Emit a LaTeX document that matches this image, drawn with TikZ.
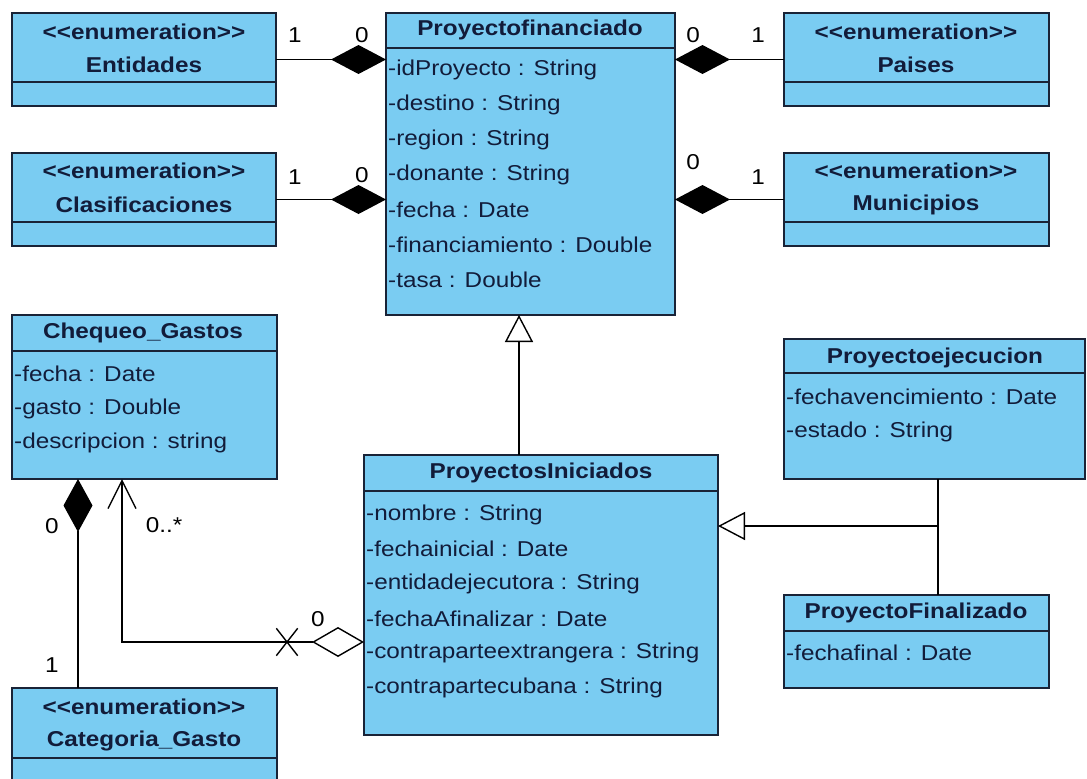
\documentclass[tikz,border=0pt]{standalone}
\usepackage{fontspec}
\setmainfont{Liberation Sans}[FakeStretch=1.13]
\usetikzlibrary{arrows.meta,shapes.misc}
\definecolor{clsfill}{RGB}{122,204,242}
\definecolor{clsline}{RGB}{25,35,55}
\definecolor{clstext}{RGB}{18,28,58}
\newcommand\enumst{<\kern0pt<enumeration>\kern0pt>}
\begin{document}
\begin{tikzpicture}[x=1pt,y=-1pt,
  cls/.style={draw=clsline, fill=clsfill, line width=1.8pt, anchor=north west, inner sep=0pt, outer sep=0pt},
  ttl/.style={font=\bfseries\fontsize{21.5}{24}\selectfont, text=clstext, inner sep=0pt},
  attr/.style={font=\fontsize{21.5}{24}\selectfont, text=clstext, anchor=west, inner sep=0pt},
  mult/.style={font=\fontsize{21.5}{24}\selectfont, text=black, inner sep=0pt},
  sep/.style={draw=clsline, line width=1.8pt},
  conn/.style={draw=black, line width=1.4pt},
  comp/.style={conn, -{Diamond[length=55pt, width=29pt]}},
  gen/.style={conn, -{Triangle[open, length=27pt, width=28pt]}},
  xmark/.style={draw=black, line width=1.4pt, cross out, minimum width=20pt, minimum height=26pt, inner sep=0pt}
]
\useasboundingbox[fill=white] (0,0) rectangle (1087,779);
\clip (0,0) rectangle (1087,779);

% ---- Entidades
\node[cls, minimum width=264pt, minimum height=93pt] (ent) at (12,13) {};
\draw[sep] (12,82) -- (276,82);
\node[ttl] (entS) at (144,32) {\enumst};
\node[ttl] (entN) at (144,65) {Entidades};

% ---- Clasificaciones
\node[cls, minimum width=264pt, minimum height=93pt] (cla) at (12,153) {};
\draw[sep] (12,222) -- (276,222);
\node[ttl] (claS) at (144,171) {\enumst};
\node[ttl] (claN) at (144,205) {Clasificaciones};

% ---- Paises
\node[cls, minimum width=265pt, minimum height=93pt] (pai) at (784,13) {};
\draw[sep] (784,82) -- (1049,82);
\node[ttl] (paiS) at (916,32) {\enumst};
\node[ttl] (paiN) at (916,65) {Paises};

% ---- Municipios
\node[cls, minimum width=265pt, minimum height=93pt] (mun) at (784,153) {};
\draw[sep] (784,222) -- (1049,222);
\node[ttl] (munS) at (916,171) {\enumst};
\node[ttl] (munN) at (916,205) {Municipios};

% ---- Proyectofinanciado
\node[cls, minimum width=289pt, minimum height=302pt] (pf) at (386,13) {};
\draw[sep] (386,48) -- (675,48);
\node[ttl] (pfN) at (530,30) {Proyectofinanciado};
\node[attr] (pf1) at (388,70) {-idProyecto : String};
\node[attr] (pf2) at (388,105) {-destino : String};
\node[attr] (pf3) at (388,140) {-region : String};
\node[attr] (pf4) at (388,175) {-donante : String};
\node[attr] (pf5) at (388,210) {-fecha : Date};
\node[attr] (pf6) at (388,245) {-financiamiento : Double};
\node[attr] (pf7) at (388,280) {-tasa : Double};

% ---- Chequeo_Gastos
\node[cls, minimum width=265pt, minimum height=164pt] (cg) at (12,315) {};
\draw[sep] (12,351) -- (277,351);
\node[ttl] (cgN) at (143,333) {Chequeo\_Gastos};
\node[attr] (cg1) at (14,374) {-fecha : Date};
\node[attr] (cg2) at (14,409) {-gasto : Double};
\node[attr] (cg3) at (14,443) {-descripcion : string};

% ---- Categoria_Gasto
\node[cls, minimum width=265pt, minimum height=112pt] (cat) at (12,688) {};
\draw[sep] (12,758) -- (277,758);
\node[ttl] (catS) at (144,707) {\enumst};
\node[ttl] (catN) at (144,741) {Categoria\_Gasto};

% ---- ProyectosIniciados
\node[cls, minimum width=354pt, minimum height=280pt] (pi) at (364,455) {};
\draw[sep] (364,491) -- (718,491);
\node[ttl] (piN) at (541,473) {ProyectosIniciados};
\node[attr] (pi1) at (366,515) {-nombre : String};
\node[attr] (pi2) at (366,549) {-fechainicial : Date};
\node[attr] (pi3) at (366,584) {-entidadejecutora : String};
\node[attr] (pi4) at (366,619) {-fechaAfinalizar : Date};
\node[attr] (pi5) at (366,653) {-contraparteextrangera : String};
\node[attr] (pi6) at (366,688) {-contrapartecubana : String};

% ---- Proyectoejecucion
\node[cls, minimum width=301pt, minimum height=140pt] (pe) at (784,339) {};
\draw[sep] (784,373) -- (1085,373);
\node[ttl] (peN) at (935,358) {Proyectoejecucion};
\node[attr] (pe1) at (786,397) {-fechavencimiento : Date};
\node[attr] (pe2) at (786,432) {-estado : String};

% ---- ProyectoFinalizado
\node[cls, minimum width=265pt, minimum height=93pt] (pfin) at (784,595) {};
\draw[sep] (784,631) -- (1049,631);
\node[ttl] (pfinN) at (916,613) {ProyectoFinalizado};
\node[attr] (pfin1) at (786,653) {-fechafinal : Date};

% ---- compositions with enumerations
\draw[comp] (ent.east) -- (ent.east -| pf.west);
\draw[comp] (cla.east) -- (cla.east -| pf.west);
\draw[comp] (pai.west) -- (pai.west -| pf.east);
\draw[comp] (mun.west) -- (mun.west -| pf.east);

% ---- generalizations
\coordinate (gx) at (519,400);
\draw[gen] (pi.north -| gx) -- (pf.south -| gx);
\coordinate (jn) at (938,526);
\draw[conn] (pe.south -| jn) -- (pfin.north -| jn);
\draw[gen] (jn) -- (pi.east |- jn);

% ---- Categoria_Gasto -> Chequeo_Gastos
\coordinate (cx) at (78,600);
\draw[conn, -{Diamond[length=53pt, width=29pt]}] (cat.north -| cx) -- (cg.south -| cx);

% ---- ProyectosIniciados -> Chequeo_Gastos
\coordinate (bend) at (122,642);
\draw[conn, {Diamond[open, length=52pt, width=30pt]}-{Straight Barb[length=28pt, width=28pt]}] (pi.west |- bend) -- (bend) -- (cg.south -| bend);
\node[xmark] (xm) at (287,642) {};

% ---- multiplicities
\node[mult] (m1) at (295,35) {1};
\node[mult] (m2) at (362,35) {0};
\node[mult] (m3) at (295,177) {1};
\node[mult] (m4) at (362,175) {0};
\node[mult] (m5) at (693,35) {0};
\node[mult] (m6) at (758,35) {1};
\node[mult] (m7) at (693,162) {0};
\node[mult] (m8) at (758,177) {1};
\node[mult] (m9) at (52,526) {0};
\node[mult] (m10) at (52,665) {1};
\node[mult] (m11) at (164,525) {0..*};
\node[mult] (m12) at (318,619) {0};
\end{tikzpicture}
\end{document}
